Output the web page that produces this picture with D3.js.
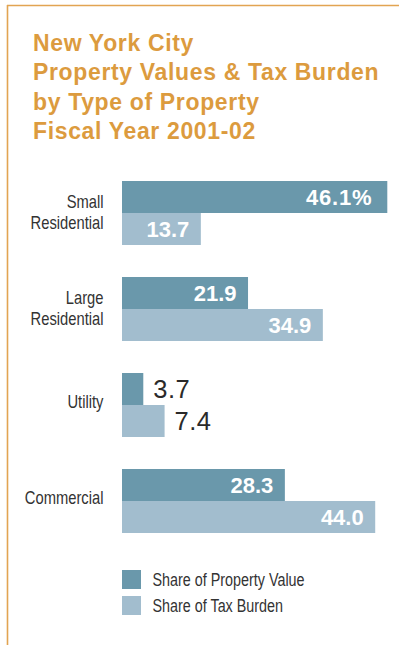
<!DOCTYPE html>
<html>
<head>
<meta charset="utf-8">
<script src="https://cdn.jsdelivr.net/npm/d3@7/dist/d3.min.js"></script>
<style>
  html, body { margin: 0; padding: 0; background: #ffffff; }
  svg { display: block; }
</style>
</head>
<body>
<svg id="chart" width="399" height="645"></svg>
<script>
// Share of citywide property value vs. share of property tax burden, FY 2001-02 (percent)
const categories = ["Small Residential", "Large Residential", "Utility", "Commercial"];
const categoryLines = [["Small", "Residential"], ["Large", "Residential"], ["Utility"], ["Commercial"]];
const propertyValue = [46.1, 21.9, 3.7, 28.3];
const taxBurden = [13.7, 34.9, 7.4, 44.0];
const seriesNames = ["Share of Property Value", "Share of Tax Burden"];
const titleLines = [
  "New York City",
  "Property Values & Tax Burden",
  "by Type of Property",
  "Fiscal Year 2001-02"
];

const colors = ["#6a98ab", "#a2bdce"];
const orange = "#dc9b3e";
const sans = "'Liberation Sans', Arial, Helvetica, sans-serif";
const condense = 0.82; // horizontal squeeze giving a condensed face for the small type

const svg = d3.select("#chart");

// Frame: rule along the top and down the left side
svg.append("line")
  .attr("x1", 7).attr("x2", 399).attr("y1", 5.5).attr("y2", 5.5)
  .attr("stroke", "#e2a452").attr("stroke-width", 1.6);
svg.append("line")
  .attr("x1", 7.5).attr("x2", 7.5).attr("y1", 5).attr("y2", 645)
  .attr("stroke", "#e2a452").attr("stroke-width", 1.6);

// Title
const title = svg.append("text")
  .attr("x", 33)
  .attr("font-family", sans)
  .attr("font-weight", "bold")
  .attr("font-size", 23)
  .attr("letter-spacing", 0.65)
  .attr("fill", orange);
title.selectAll("tspan")
  .data(titleLines)
  .join("tspan")
  .attr("x", 33)
  .attr("y", (d, i) => 51 + i * 29.3)
  .text(d => d);

// Scales
const x = d3.scaleLinear().domain([0, 46.1]).range([122, 387.3]);
const y = d3.scaleBand().domain(categories).range([181, 533]).paddingInner(1 / 3).paddingOuter(0);
const sub = d3.scaleBand().domain([0, 1]).range([0, y.bandwidth()]);

const rows = categories.map((c, i) => ({
  category: c,
  lines: categoryLines[i],
  values: [propertyValue[i], taxBurden[i]]
}));

const groups = svg.append("g").selectAll("g")
  .data(rows)
  .join("g")
  .attr("transform", d => `translate(0,${y(d.category)})`);

// Category labels, right-aligned against the bars
groups.append("g")
  .attr("transform", `translate(103.5,${y.bandwidth() / 2}) scale(${condense},1)`)
  .append("text")
  .attr("text-anchor", "end")
  .attr("font-family", sans)
  .attr("font-size", 18)
  .attr("fill", "#333333")
  .each(function (d) {
    const t = d3.select(this);
    if (d.lines.length === 1) {
      t.append("tspan").attr("x", 0).attr("y", 2.5).text(d.lines[0]);
    } else {
      d.lines.forEach((line, j) => {
        t.append("tspan").attr("x", 0).attr("y", -5 + j * 21).text(line);
      });
    }
  });

// Bars
const bars = groups.selectAll("g.bar")
  .data(d => d.values.map((v, j) => ({ v, j, first: d.category === categories[0] })))
  .join("g")
  .attr("class", "bar");

bars.append("rect")
  .attr("x", x(0))
  .attr("y", d => sub(d.j))
  .attr("width", d => x(d.v) - x(0))
  .attr("height", sub.bandwidth())
  .attr("fill", d => colors[d.j]);

// Value labels: inside in white, or outside in dark type when the bar is short
bars.append("text")
  .each(function (d) {
    const inside = x(d.v) - x(0) > 60;
    const t = d3.select(this)
      .attr("y", sub(d.j) + sub.bandwidth() / 2)
      .attr("dy", "0.36em")
      .attr("font-family", sans);
    const label = d.v.toFixed(1) + (d.first && d.j === 0 ? "%" : "");
    if (inside) {
      t.attr("x", x(d.v) - (label.endsWith("%") ? 15 : 11.5))
        .attr("text-anchor", "end")
        .attr("font-weight", "bold")
        .attr("font-size", 22)
        .attr("letter-spacing", label.endsWith("%") ? 0.8 : 0)
        .attr("fill", "#ffffff");
    } else {
      t.attr("x", x(d.v) + 10)
        .attr("text-anchor", "start")
        .attr("font-size", 25.5)
        .attr("letter-spacing", 0.5)
        .attr("fill", "#2a2a2a");
    }
    t.text(label);
  });

// Legend
const legend = svg.append("g").selectAll("g")
  .data(seriesNames)
  .join("g")
  .attr("transform", (d, i) => `translate(122,${570 + i * 26})`);
legend.append("rect")
  .attr("width", 19).attr("height", 19)
  .attr("fill", (d, i) => colors[i]);
legend.append("g")
  .attr("transform", `translate(30.5,15.7) scale(${condense},1)`)
  .append("text")
  .attr("font-family", sans)
  .attr("font-size", 17.5)
  .attr("fill", "#333333")
  .text(d => d);
</script>
</body>
</html>
